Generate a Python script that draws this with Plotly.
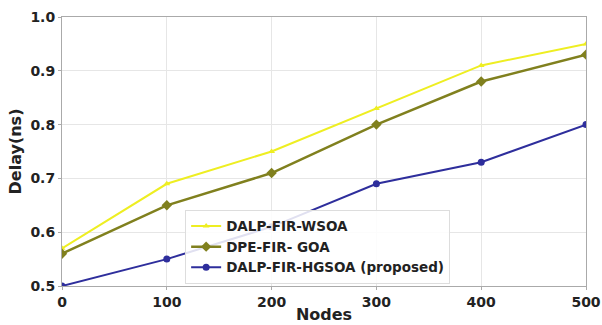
import plotly.graph_objects as go

nodes = [0, 100, 200, 300, 400, 500]
wsoa = [0.57, 0.69, 0.75, 0.83, 0.91, 0.95]
goa = [0.56, 0.65, 0.71, 0.80, 0.88, 0.93]
hgsoa = [0.50, 0.55, 0.61, 0.69, 0.73, 0.80]

x_ticks = [0, 100, 200, 300, 400, 500]
y_ticks = [0.5, 0.6, 0.7, 0.8, 0.9, 1.0]

fig = go.Figure()
fig.add_trace(go.Scatter(x=nodes, y=wsoa, mode="lines+markers", name="DALP-FIR-WSOA",
                         line=dict(color="#eeee22", width=2),
                         marker=dict(symbol="triangle-up", size=6, color="#eeee22")))
fig.add_trace(go.Scatter(x=nodes, y=goa, mode="lines+markers", name="DPE-FIR- GOA",
                         line=dict(color="#80801e", width=2.5),
                         marker=dict(symbol="diamond", size=8, color="#80801e")))
fig.add_trace(go.Scatter(x=nodes, y=hgsoa, mode="lines+markers", name="DALP-FIR-HGSOA (proposed)",
                         line=dict(color="#2e2e9c", width=2),
                         marker=dict(symbol="circle", size=7, color="#2e2e9c")))

font_family = "DejaVu Sans"
fig.update_layout(
    width=602, height=325,
    margin=dict(l=62, r=16, t=17, b=39),
    paper_bgcolor="white", plot_bgcolor="white",
    font=dict(family=font_family, color="#222222"),
    showlegend=True,
    legend=dict(x=0.235, y=0.008, xanchor="left", yanchor="bottom",
                bgcolor="rgba(255,255,255,0.85)", bordercolor="#dddddd", borderwidth=1,
                font=dict(family=font_family, size=13.5, color="#222222", weight="bold"),
                tracegroupgap=0, itemwidth=30),
    xaxis=dict(range=[0, 500], tickvals=x_ticks, ticktext=[str(v) for v in x_ticks],
               automargin=False,
               showgrid=True, gridcolor="#e6e6e6", zeroline=False,
               showline=True, linecolor="#aaaaaa", mirror=True, linewidth=1,
               ticks="outside", ticklen=3, tickcolor="#aaaaaa",
               tickfont=dict(size=14, weight="bold"),
               title=dict(text="Nodes", font=dict(size=16, weight="bold"), standoff=0)),
    yaxis=dict(range=[0.5, 1.0], tickvals=y_ticks, ticktext=[f"{v:.1f}" for v in y_ticks],
               automargin=False,
               showgrid=True, gridcolor="#e6e6e6", zeroline=False,
               showline=True, linecolor="#aaaaaa", mirror=True, linewidth=1,
               ticks="outside", ticklen=3, tickcolor="#aaaaaa",
               tickfont=dict(size=14, weight="bold"),
               title=dict(text="Delay(ns)", font=dict(size=16, weight="bold"), standoff=4)),
)

fig.write_html("out.html", config={"displayModeBar": False},
               post_script="document.body.style.margin='0';document.body.style.padding='0';")
